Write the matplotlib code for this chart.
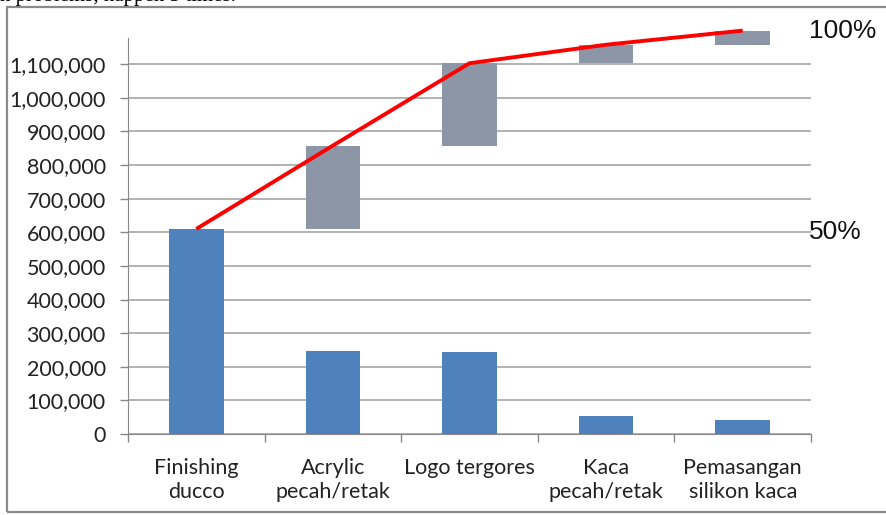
import matplotlib.pyplot as plt
import matplotlib.transforms as mtransforms
from matplotlib.ticker import FuncFormatter
from matplotlib.patches import Rectangle
import numpy as np

categories = ["Finishing\nducco", "Acrylic\npecah/retak", "Logo tergores",
              "Kaca\npecah/retak", "Pemasangan\nsilikon kaca"]
costs = [610000, 248000, 245000, 55000, 42000]
y_ticks = [0, 100000, 200000, 300000, 400000, 500000, 600000,
           700000, 800000, 900000, 1000000, 1100000]
percent_labels = ["50%", "100%"]
percent_levels = [0.5, 1.0]

blue = "#4f81bd"
grey = "#8d96a7"
red = "#ff0000"
grid_c = "#a6a6a6"

x = np.arange(len(costs))
cum = np.cumsum(costs)
base = np.concatenate([[0], cum[:-1]])
total = cum[-1]

fig = plt.figure(figsize=(8.86, 5.15), dpi=100)
ax = fig.add_axes([128 / 886, 81 / 515, 683 / 886, 396 / 515])

ax.set_xlim(-0.5, len(costs) - 0.5)
ax.set_ylim(0, 1178000)

for y in y_ticks:
    ax.axhline(y, color=grid_c, lw=1.2, zorder=1)

# stacked cumulative blocks (skip the first, it is the blue bar itself)
ax.bar(x[1:], costs[1:], bottom=base[1:], width=0.4, color=grey,
       zorder=2, clip_on=False)
ax.bar(x, costs, width=0.4, color=blue, zorder=3)
ax.plot(x, cum, color=red, lw=2.8, zorder=4, clip_on=False,
        solid_capstyle="butt")

ax.set_yticks(y_ticks)
ax.yaxis.set_major_formatter(FuncFormatter(lambda v, p: f"{int(v):,}"))
ax.set_xticks(x)
ax.set_xticklabels(categories, fontsize=15.5, family="Lato", color="#222222",
                   linespacing=1.3)
for t in ax.get_yticklabels():
    t.set_fontsize(15.5)
    t.set_family("Lato")
    t.set_color("#222222")

# category separators on the x axis
ax.set_xticks(np.arange(-0.5, len(costs) + 0.5, 1), minor=True)
ax.tick_params(axis="x", which="major", length=0, pad=17)
ax.tick_params(axis="x", which="minor", length=6, color="#888888", width=1)
ax.tick_params(axis="y", length=6, color="#888888", width=1, pad=10)

for s in ["top", "right"]:
    ax.spines[s].set_visible(False)
ax.spines["left"].set_color("#888888")
ax.spines["bottom"].set_color("#888888")

trans = mtransforms.blended_transform_factory(ax.transAxes, ax.transData)
for lab, lv in zip(percent_labels, percent_levels):
    ax.text(0.997, total * lv, lab, transform=trans, fontsize=19,
            family="Liberation Sans", va="center", ha="left", color="#111111")

# surrounding frame and clipped caption line above it
fig.patches.append(Rectangle((7 / 886, 3 / 515), 1.0, 505 / 515,
                             transform=fig.transFigure, fill=False,
                             edgecolor="#8a8a8a", lw=1.6))
fig.text(0.0, 1 - 1.5 / 515, "h problems, happen 5 times.", fontsize=15,
         family="Liberation Serif", va="baseline", ha="left")

fig.savefig("out.png", dpi=100)
